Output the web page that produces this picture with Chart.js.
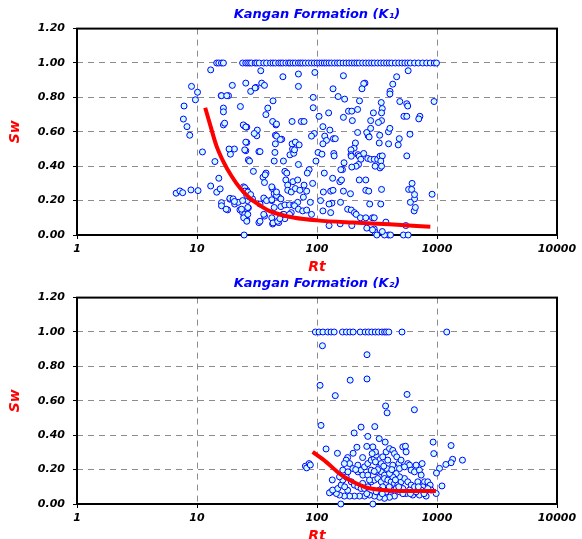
<!DOCTYPE html>
<html lang="en">
<head>
<meta charset="UTF-8">
<title>Kangan Formation - Sw vs Rt</title>
<script src="https://cdn.jsdelivr.net/npm/chart.js"></script>
<style>
    body { margin: 0; background: #fff; overflow: hidden; }
    #wrap { position: relative; width: 582px; height: 539px; overflow: hidden; }
    canvas { position: absolute; left: 0; }
</style>
</head>
<body>
<div id="wrap">
    <canvas id="k1Chart" width="582" height="280" style="top:0"></canvas>
    <canvas id="k2Chart" width="582" height="280" style="top:269px"></canvas>
</div>
<script>
const xTicks = [1, 10, 100, 1000, 10000];
const yTicks = [0, 0.2, 0.4, 0.6, 0.8, 1.0, 1.2];

// [Rt, Sw] (K1)
const k1Points = [
    [14.6,1],[15.2,1],[16,1],[16.6,1],[24,1],[25.5,1],[26.5,1],[27.5,1],[28.5,1],[30.5,1],[31.5,1],[33,1],
    [36,1],[38,1],[41,1],[43,1],[45,1],[48,1],[50,1],[52,1],[55,1],[58,1],[60,1],[63,1],[66,1],[70,1],
    [73,1],[76,1],[80,1],[85,1],[90,1],[95,1],[100,1],[105,1],[110,1],[115,1],[120,1],[126,1],[132,1],
    [140,1],[148,1],[155,1],[165,1],[175,1],[185,1],[195,1],[205,1],[215,1],[225,1],[240,1],[255,1],
    [270,1],[285,1],[300,1],[320,1],[340,1],[360,1],[380,1],[400,1],[420,1],[450,1],[480,1],[510,1],
    [540,1],[570,1],[600,1],[650,1],[700,1],[760,1],[820,1],[880,1],[950,1],[990,1],
    [13,0.96],[34,0.955],[52,0.92],[9,0.864],[10.1,0.83],[9.7,0.786],[7.8,0.75],[7.7,0.674],[8.25,0.63],
    [8.7,0.58],[11.1,0.483],[6.7,0.243],[7.2,0.256],[7.6,0.246],[8.9,0.262],[10.2,0.258],[13,0.285],
    [14.1,0.427],[14.6,0.249],[15.2,0.33],[15.6,0.268],[15.9,0.81],[16.6,0.738],[16.6,0.716],[16.6,0.64],
    [17,0.65],[18.3,0.81],[19.7,0.87],[16,0.188],[16,0.17],[18,0.146],[18.8,0.208],[20.6,0.18],[19,0.47],
    [20.5,0.5],[22,0.19],[23,0.747],[22.8,0.146],[24,0.13],[24.4,0.28],[24.7,0.635],[25.5,0.883],[26,0.627],
    [26,0.538],[25.5,0.49],[26,0.26],[26.3,0.2],[26.8,0.437],[26.8,0.158],[26,0.087],[24.7,0],[24.7,0.107],
    [28,0.835],[27.5,0.22],[29,0.21],[29.5,0.37],[31,0.858],[31.5,0.577],[31.8,0.61],[32.8,0.485],
    [32.8,0.072],[33.5,0.18],[34.6,0.883],[36.5,0.87],[35.5,0.336],[36.5,0.305],[37.6,0.36],[36.5,0.21],
    [36.5,0.11],[38.9,0.738],[37.5,0.7],[43,0.78],[42.7,0.66],[45.5,0.64],[45,0.58],[44.6,0.48],[44,0.43],
    [42.5,0.27],[44,0.24],[48,0.22],[42,0.2],[44,0.16],[42.7,0.064],[48,0.072],[50.8,0.557],[54,0.37],
    [55,0.32],[52,0.12],[54,0.095],[25,0.495],[33.5,0.485],[27.4,0.43],[62.6,0.5],[59.5,0.466],[52.5,0.43],
    [64,0.475],[56,0.36],[37,0.35],[42,0.28],[18.8,0.213],[20,0.21],[17.5,0.15],[20.5,0.195],[25,0.275],
    [25,0.255],[26,0.23],[26.5,0.25],[28,0.235],[24,0.2],[26.5,0.16],[23.5,0.15],[25,0.12],[24.5,0.1],
    [26.5,0.12],[26,0.08],[36,0.215],[38,0.2],[42,0.205],[46,0.23],[50,0.21],[50,0.165],[54,0.175],
    [59,0.175],[64,0.175],[61,0.13],[36,0.12],[42,0.1],[33.5,0.08],[43,0.07],[47,0.08],[49,0.095],[53,0.12],
    [59,0.12],[57,0.29],[63,0.31],[57,0.26],[61,0.25],[66,0.27],[46,0.25],[16,0.81],[17.7,0.81],[30.5,0.855],
    [70,0.936],[70,0.864],[24.3,0.64],[25.5,0.628],[46,0.645],[30,0.59],[46,0.575],[49.5,0.555],[62,0.66],
    [74,0.66],[25.5,0.54],[45,0.53],[62,0.53],[66,0.54],[18.5,0.5],
    [96,0.945],[166,0.926],[251,0.883],[245,0.88],[237,0.85],[461,0.92],[428,0.877],[406,0.835],[405,0.82],
    [575,0.955],[136,0.85],[93,0.8],[93,0.74],[150,0.805],[170,0.79],[226,0.78],[125,0.71],[104,0.69],
    [183,0.72],[195,0.72],[218,0.73],[166,0.684],[197,0.665],[295,0.71],[280,0.665],[343,0.77],[350,0.735],
    [345,0.71],[345,0.665],[490,0.776],[560,0.763],[570,0.75],[945,0.776],[530,0.69],[560,0.69],[720,0.69],
    [705,0.675],[78,0.66],[112,0.63],[128,0.61],[95,0.59],[90,0.575],[116,0.575],[120,0.55],[112,0.53],
    [137,0.56],[142,0.56],[204,0.505],[209,0.535],[192,0.495],[192,0.467],[218,0.596],[267,0.577],
    [260,0.596],[280,0.62],[272,0.57],[325,0.654],[333,0.58],[394,0.6],[405,0.62],[330,0.535],[395,0.53],
    [475,0.524],[485,0.56],[595,0.586],[560,0.46],[71,0.524],[65,0.495],[102,0.48],[138,0.474],[139,0.46],
    [193,0.458],[220,0.467],[225,0.458],[232,0.44],[245,0.474],[265,0.445],[280,0.44],[300,0.44],[320,0.44],
    [335,0.458],[350,0.46],[340,0.43],[335,0.39],[345,0.4],[305,0.4],[222,0.41],[212,0.4],[195,0.395],
    [163,0.38],[158,0.38],[168,0.42],[98,0.43],[86,0.38],[83,0.36],[70,0.41],[115,0.36],[135,0.33],
    [155,0.31],[160,0.32],[225,0.32],[255,0.32],[255,0.26],[345,0.265],[270,0.255],[340,0.18],[275,0.18],
    [580,0.265],[620,0.3],[650,0.21],[600,0.19],[645,0.14],[910,0.237],[69,0.32],[78,0.29],[92,0.3],
    [72,0.26],[77,0.22],[82,0.255],[113,0.25],[130,0.255],[136,0.26],[166,0.255],[190,0.24],[157,0.19],
    [133,0.185],[126,0.18],[107,0.2],[88,0.19],[69,0.19],[65,0.17],[70,0.15],[76,0.14],[82,0.145],[90,0.12],
    [112,0.14],[130,0.13],[180,0.15],[193,0.145],[205,0.13],[212,0.12],[230,0.1],[255,0.1],[290,0.1],
    [300,0.1],[375,0.075],[126,0.055],[156,0.065],[195,0.055],[260,0.04],[300,0.035],[305,0.015],[315,0],
    [395,0],[410,0],[525,0],[575,0],[550,0.055],[290,0.03],[110,0.47],[615,0.265],[650,0.235],[660,0.16],
    [365,0],[350,0.02]
];

// fitted trend, upper plot
const k1Fit = [
    [11.7,0.74],[13,0.63],[14.5,0.52],[16.5,0.43],[19.5,0.34],[23,0.27],[27,0.22],[33,0.175],[40,0.14],
    [50,0.118],[65,0.1],[100,0.085],[200,0.072],[400,0.062],[880,0.048]
];

// [Rt, Sw] (K2)
const k2Points = [
    [97,1],[104,1],[112,1],[123,1],[131,1],[139,1],[163,1],[176,1],[188,1],[200,1],[229,1],[252,1],
    [268,1],[286,1],[306,1],[325,1],[348,1],[366,1],[380,1],[397,1],[511,1],[1206,1],
    [111,0.92],[261,0.868],[106,0.69],[189,0.72],[261,0.727],[142,0.63],[563,0.637],[373,0.57],[384,0.53],
    [648,0.548],[108,0.457],[204,0.413],[233,0.447],[303,0.45],[265,0.393],[330,0.38],[370,0.36],[928,0.36],
    [1310,0.34],[940,0.293],[1630,0.255],[1350,0.26],[1310,0.24],[1185,0.23],[1050,0.207],[990,0.18],
    [1100,0.105],[119,0.32],[148,0.295],[180,0.27],[200,0.295],[215,0.33],[260,0.335],[80,0.22],[82,0.21],
    [86,0.235],[88,0.227],[134,0.14],[158,0],[292,0],
    [175,0.255],[187,0.235],[199,0.206],[219,0.187],[233,0.197],[249,0.216],[265,0.235],[283,0.255],
    [301,0.264],[311,0.284],[307,0.303],[292,0.332],[288,0.293],[307,0.245],[332,0.216],[343,0.187],
    [365,0.168],[382,0.206],[389,0.255],[377,0.303],[402,0.322],[428,0.312],[442,0.293],[462,0.274],
    [481,0.235],[487,0.206],[519,0.332],[546,0.336],[553,0.303],[571,0.235],[590,0.226],[609,0.197],
    [649,0.187],[670,0.226],[714,0.197],[752,0.235],[738,0.168],[787,0.129],[838,0.129],[877,0.11],
    [893,0.081],[812,0.046],[714,0.052],[628,0.052],[553,0.061],[487,0.071],[442,0.046],[402,0.039],
    [365,0.033],[332,0.039],[301,0.046],[274,0.052],[249,0.046],[226,0.046],[205,0.046],[187,0.046],
    [169,0.046],[154,0.052],[145,0.061],[131,0.071],[127,0.065],[135,0.081],[149,0.09],[159,0.11],
    [164,0.139],[175,0.158],[193,0.129],[205,0.11],[219,0.1],[233,0.09],[249,0.09],[265,0.1],[283,0.129],
    [301,0.139],[321,0.148],[343,0.129],[365,0.148],[389,0.139],[415,0.129],[442,0.119],[471,0.11],
    [502,0.129],[536,0.148],[571,0.129],[609,0.11],[649,0.1],[692,0.129],[762,0.1],[838,0.09],[984,0.061],
    [487,0.158],[457,0.177],[428,0.158],[402,0.177],[353,0.1],[332,0.081],[311,0.071],[377,0.071],
    [415,0.081],[457,0.09],[519,0.09],[590,0.081],[670,0.071],[738,0.081],[154,0.158],[164,0.197],
    [169,0.235],[181,0.187],[219,0.226],[241,0.168],[265,0.168],[274,0.139],[283,0.197],[311,0.187],
    [343,0.235],[353,0.274],[502,0.255],[536,0.216],[428,0.226],
    [240,0.12],[260,0.06],[180,0.08],[170,0.1],[210,0.2],[320,0.2],[360,0.22],[420,0.2],[480,0.1],
    [520,0.06],[600,0.06],[700,0.1],[780,0.06],[240,0.27],[300,0.19],[350,0.06],[400,0.1],[450,0.14]
];

// fitted trend, lower plot
const k2Fit = [
    [92,0.303],[119,0.245],[154,0.177],[199,0.129],[257,0.096],[353,0.081],[487,0.075],[670,0.075],[980,0.075]
];

const FONT = "'DejaVu Sans', Verdana, sans-serif";
const boldItalic = size => ({ family: FONT, size: size, weight: 'bold', style: 'italic' });

// black frame round the whole plot area
const framePlugin = {
    id: 'frame',
    beforeDatasetsDraw(chart) {
        const a = chart.chartArea;
        const ctx = chart.ctx;
        ctx.save();
        ctx.strokeStyle = '#000';
        ctx.lineWidth = 2;
        ctx.strokeRect(a.left, a.top, a.right - a.left, a.bottom - a.top);
        ctx.restore();
    }
};

function makeChart(id, titleText, points, fit) {
    const ctx = document.getElementById(id).getContext('2d');
    return new Chart(ctx, {
        type: 'scatter',
        data: {
            datasets: [
                {
                    data: fit.map(p => ({ x: p[0], y: p[1] })),
                    showLine: true,
                    borderColor: '#ff0000',
                    borderWidth: 4,
                    pointRadius: 0,
                    cubicInterpolationMode: 'monotone',
                    fill: false
                },
                {
                    data: points.map(p => ({ x: p[0], y: p[1] })),
                    pointRadius: 3,
                    pointBorderWidth: 1,
                    pointBorderColor: '#0000ff',
                    pointBackgroundColor: '#ccffff',
                    borderColor: '#0000ff',
                    backgroundColor: '#ccffff',
                    clip: false
                }
            ]
        },
        options: {
            responsive: false,
            animation: false,
            layout: { padding: { left: 0, right: 25, top: 0, bottom: 0 } },
            plugins: {
                legend: { display: false },
                tooltip: { enabled: false },
                title: {
                    display: true,
                    text: titleText,
                    color: '#0000ff',
                    fullSize: false,
                    font: boldItalic(13),
                    padding: { top: 7, bottom: 6 }
                }
            },
            scales: {
                x: {
                    type: 'logarithmic',
                    min: 1,
                    max: 10000,
                    afterBuildTicks: axis => { axis.ticks = xTicks.map(v => ({ value: v })); },
                    afterFit: axis => { axis.height = 45; },
                    ticks: {
                        callback: v => String(v),
                        color: '#000',
                        font: boldItalic(11),
                        padding: 4,
                        maxRotation: 0,
                        autoSkip: false
                    },
                    grid: { color: '#8c8c8c', lineWidth: 1, tickLength: 4, tickColor: '#000' },
                    border: { display: false, dash: [6, 5] },
                    title: {
                        display: true,
                        text: 'Rt',
                        color: '#ff0000',
                        font: boldItalic(14),
                        padding: { top: 0, bottom: 4 }
                    }
                },
                y: {
                    min: 0,
                    max: 1.2,
                    afterBuildTicks: axis => { axis.ticks = yTicks.map(v => ({ value: v })); },
                    afterFit: axis => { axis.width = 77; },
                    ticks: {
                        callback: v => v.toFixed(2),
                        color: '#000',
                        font: boldItalic(11),
                        padding: 8
                    },
                    grid: { color: '#8c8c8c', lineWidth: 1, tickLength: 4, tickColor: '#000' },
                    border: { display: false, dash: [6, 5] },
                    title: {
                        display: true,
                        text: 'Sw',
                        color: '#ff0000',
                        font: boldItalic(14),
                        padding: { top: 7, bottom: 0 }
                    }
                }
            }
        },
        plugins: [framePlugin]
    });
}

makeChart('k1Chart', 'Kangan Formation (K\u2081)', k1Points, k1Fit);
makeChart('k2Chart', 'Kangan Formation (K\u2082)', k2Points, k2Fit);
</script>
</body>
</html>
